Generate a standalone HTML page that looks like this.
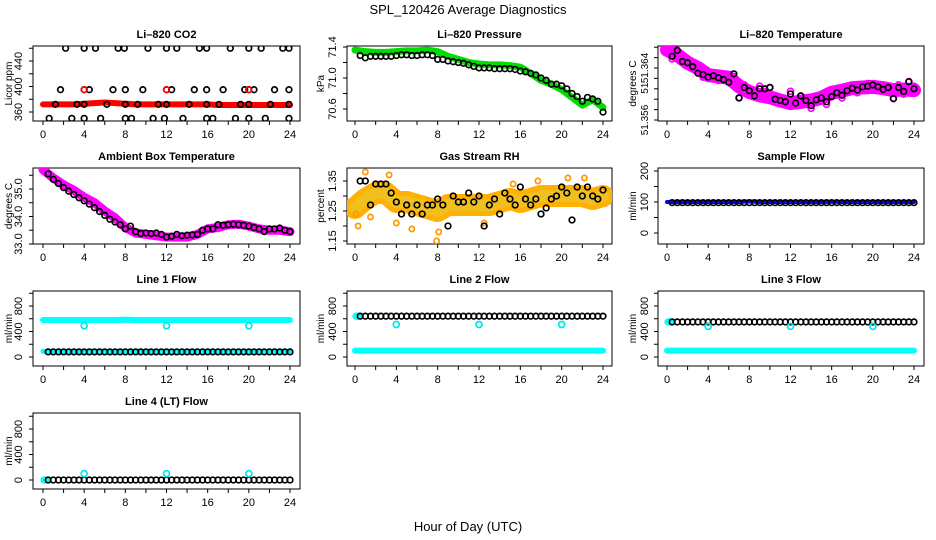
<!DOCTYPE html>
<html><head><meta charset="utf-8"><style>
html,body{margin:0;padding:0;background:#fff;}
svg{display:block;font-family:"Liberation Sans",sans-serif;}
</style></head><body>
<svg id="chart" width="936" height="540" viewBox="0 0 936 540">
<text x="468" y="14" text-anchor="middle" font-size="13">SPL_120426  Average Diagnostics</text>
<text x="468" y="531" text-anchor="middle" font-size="13">Hour of Day (UTC)</text>
</svg>
<script>
const HOURS=[0,1,2,3,4,5,6,7,8,9,10,11,12,13,14,15,16,17,18,19,20,21,22,23,24];
const HALF=[0.5,1,1.5,2,2.5,3,3.5,4,4.5,5,5.5,6,6.5,7,7.5,8,8.5,9,9.5,10,10.5,11,11.5,12,12.5,13,13.5,14,14.5,15,15.5,16,16.5,17,17.5,18,18.5,19,19.5,20,20.5,21,21.5,22,22.5,23,23.5,24];
const OUTLIER_HOURS=[4,12,20];
const X_TICKS=[0,2,4,6,8,10,12,14,16,18,20,22,24];
const X_LABELS=[0,4,8,12,16,20,24];

// CO2
const co2Band=[372,372,372,372,373,374,375,374,373,372,372,372,372,372,372,372,372,371,371,371,371,371,371,371,371];
const co2HiHours=[2.2,4,5.1,7.3,7.9,10.2,12,13,15.2,15.9,18.2,20,21.2,23.3,23.9];
const co2MidHours=[1.7,4,4.5,6.8,8,9.7,12,12.5,14.7,15.9,17.5,19.6,20,20.5,22.5,23.9];
const co2LowHours=[0.6,2.8,4,5.6,8,8.6,10.7,11.8,13.6,15.9,16.5,18.7,20,21.6,23.9];
const co2BaseHours=[1.2,3.3,4,6.2,8,9.2,11.2,12,14.2,15.9,17.1,19.2,20,22.1,23.9];
const co2HiVal=460, co2MidVal=395, co2LowVal=350, co2BaseVal=372;
// Pressure
const presBand=[71.36,71.34,71.33,71.33,71.34,71.35,71.35,71.36,71.34,71.28,71.24,71.20,71.18,71.17,71.17,71.16,71.14,71.06,70.97,70.92,70.85,70.75,70.65,70.72,70.62];
const presPts=[71.29,71.26,71.28,71.28,71.28,71.28,71.28,71.29,71.30,71.30,71.29,71.29,71.30,71.30,71.29,71.24,71.24,71.22,71.21,71.20,71.19,71.17,71.15,71.13,71.13,71.13,71.12,71.12,71.12,71.12,71.11,71.09,71.08,71.06,71.04,71.00,70.97,70.92,70.92,70.90,70.86,70.80,70.76,70.70,70.75,70.73,70.70,70.56];
// Li-820 temperature
const tempBand=[51.3668,51.3660,51.3648,51.3640,51.3629,51.3627,51.3625,51.3612,51.3603,51.3598,51.3595,51.3590,51.3586,51.3588,51.3590,51.3594,51.3602,51.3605,51.3609,51.3610,51.3611,51.3609,51.3606,51.3607,51.3606];
const tempPts=[51.3658,51.3667,51.3650,51.3648,51.3642,51.3632,51.3630,51.3626,51.3628,51.3625,51.3622,51.3618,51.3631,51.3594,51.3610,51.3605,51.3597,51.3608,51.3608,51.3610,51.3592,51.3590,51.3588,51.3600,51.3586,51.3597,51.3590,51.3582,51.3591,51.3594,51.3588,51.3596,51.3602,51.3598,51.3605,51.3609,51.3606,51.3611,51.3612,51.3614,51.3611,51.3607,51.3610,51.3593,51.3610,51.3604,51.3619,51.3608];
// Ambient
const ambBand=[35.7,35.4,35.15,34.95,34.7,34.5,34.2,33.95,33.6,33.4,33.35,33.3,33.25,33.25,33.25,33.35,33.55,33.6,33.7,33.72,33.65,33.55,33.5,33.5,33.45];
const ambPts=[35.55,35.35,35.2,35.05,34.92,34.8,34.68,34.57,34.45,34.32,34.18,34.04,33.9,33.8,33.7,33.55,33.65,33.45,33.38,33.4,33.38,33.4,33.35,33.25,33.28,33.35,33.3,33.32,33.33,33.35,33.5,33.55,33.55,33.7,33.68,33.7,33.72,33.7,33.68,33.65,33.6,33.55,33.45,33.55,33.55,33.58,33.5,33.45];
// RH
const rhBand=[1.26,1.29,1.31,1.31,1.28,1.28,1.27,1.26,1.25,1.27,1.27,1.27,1.27,1.27,1.28,1.29,1.28,1.29,1.30,1.30,1.30,1.30,1.30,1.29,1.30];
const rhPts=[1.35,1.35,1.27,1.34,1.34,1.34,1.31,1.28,1.24,1.27,1.24,1.27,1.24,1.27,1.27,1.29,1.27,1.20,1.30,1.28,1.28,1.31,1.28,1.30,1.20,1.27,1.29,1.24,1.31,1.29,1.27,1.33,1.29,1.27,1.29,1.24,1.26,1.29,1.30,1.33,1.31,1.22,1.33,1.30,1.33,1.30,1.29,1.32];
const rhOutHours=[0.3,1,1.5,3.3,4,7.9,8.1,15.3,17.7,20.6,22.2,0.1,5.5,12.5];
const rhOutVals=[1.20,1.38,1.23,1.37,1.21,1.15,1.18,1.34,1.35,1.36,1.36,1.24,1.19,1.21];
// Sample flow
const sampBand=[100,100,100,100,100,100,100,100,102,100,100,100,100,100,100,100,101,100,100,100,100,100,100,100,100];
const sampPts=HALF.map(()=>98);
// Line flows
const l1Cyan=[580,580,580,580,580,580,580,580,585,580,580,580,580,580,580,580,580,580,580,580,580,580,580,580,580];
const l1Low=[90,90,90,90,90,90,90,90,90,90,90,90,90,90,90,90,90,90,90,90,90,90,90,90,90];
const l1Black=80, l1Out=490;
const l2Cyan=[100,100,100,100,100,100,100,100,100,100,100,100,100,100,100,100,100,100,100,100,100,100,100,100,100];
const l2Black=640, l2Out=510;
const l3Cyan=[100,100,100,100,100,100,100,100,100,100,100,100,100,100,100,100,100,100,100,100,100,100,100,100,100];
const l3Black=550, l3Out=480;
const l4Black=0, l4Out=100;

const NS="http://www.w3.org/2000/svg";
const svg=document.getElementById('chart');
function mk(tag,attrs,parent){const e=document.createElementNS(NS,tag);for(const k in attrs)e.setAttribute(k,attrs[k]);(parent||svg).appendChild(e);return e;}

const COLS=[{l:33,r:300,x0:43,x1:290,lab:22,tit:8},{l:347,r:612,x0:355,x1:603,lab:336,tit:320},{l:658,r:924,x0:667,x1:914,lab:648,tit:632}];
const ROWS=[{t:46,b:121},{t:168,b:244},{t:291,b:366},{t:413,b:489}];

function panel(name,title,col,row,ytitle,v0,p0,v1,p1,yTicks,yLabels,labSize){
  const C=COLS[col],R=ROWS[row];
  const g=mk('g',{});
  
  
  const sx=h=>C.x0+(h/24)*(C.x1-C.x0);
  const sy=v=>p0+(v-v0)*(p1-p0)/(v1-v0);
  const t=mk('text',{x:(C.l+C.r)/2,y:R.t-8,'text-anchor':'middle','font-size':11,'font-weight':'bold'},g);
  t.textContent=title;
  
  
  const box=mk('rect',{x:C.l,y:R.t,width:C.r-C.l,height:R.b-R.t,fill:'none',stroke:'#000','stroke-width':1},g);
  
  
  const xa=mk('g',{},g);
  
  
  X_TICKS.forEach(h=>mk('line',{x1:sx(h),x2:sx(h),y1:R.b,y2:R.b+4,stroke:'#000'},xa));
  X_LABELS.forEach(h=>{const e=mk('text',{x:sx(h),y:R.b+17,'text-anchor':'middle','font-size':11},xa);e.textContent=h;});
  const ya=mk('g',{},g);
  
  
  yTicks.forEach(v=>{const y=sy(v);if(y<R.t-1||y>R.b+1)return;mk('line',{x1:C.l,x2:C.l-4,y1:y,y2:y,stroke:'#000'},ya);});
  yLabels.forEach(([v,s])=>{const y=sy(v);const e=mk('text',{x:C.lab,y:y,'text-anchor':'middle','font-size':labSize||11,transform:`rotate(-90 ${C.lab} ${y})`},ya);e.textContent=s;});
  const yt=mk('text',{x:C.tit+4,y:(R.t+R.b)/2,'text-anchor':'middle','font-size':10,transform:`rotate(-90 ${C.tit+4} ${(R.t+R.b)/2})`},g);
  yt.textContent=ytitle;
  
  
  const clip='clip'+name;
  const cp=mk('clipPath',{id:clip},g);mk('rect',{x:C.l,y:R.t,width:C.r-C.l,height:R.b-R.t},cp);
  const plot=mk('g',{'clip-path':`url(#${clip})`},g);
  return {sx,sy,plot};
}
function band(P,hrs,vals,color,w,name){
  const pl=mk('polyline',{points:hrs.map((h,i)=>P.sx(h)+','+P.sy(vals[i])).join(' '),fill:'none',stroke:color,'stroke-width':w,'stroke-linejoin':'round','stroke-linecap':'round'},P.plot);
  
  
}
function pts(P,hrs,vals,color,name,r){
  const g=mk('g',{},P.plot);
  
  
  hrs.forEach((h,i)=>mk('circle',{cx:P.sx(h),cy:P.sy(Array.isArray(vals)?vals[i]:vals),r:r||2.8,fill:'none',stroke:color,'stroke-width':1.7},g));
}
const range=(a,b,s)=>{const o=[];for(let v=a;v<=b+1e-9;v+=s)o.push(+v.toFixed(6));return o;};

// Row 1
let P=panel('co2-panel','Li\u2013820 CO2',0,0,'Licor ppm',360,112,440,61,range(360,460,20),[[360,'360'],[400,'400'],[440,'440']]);
band(P,HOURS,co2Band,'#ff0000',6,'co2-band');
pts(P,co2HiHours,co2HiVal,'#000','co2-high-points');
pts(P,co2MidHours,co2MidVal,'#000','co2-mid-points');
pts(P,co2LowHours,co2LowVal,'#000','co2-low-points');
pts(P,co2BaseHours,co2BaseVal,'#000','co2-base-points');
pts(P,[4,12,20],co2MidVal,'#ff0000','co2-red-outliers');

P=panel('pressure-panel','Li\u2013820 Pressure',1,0,'kPa',70.6,109,71.4,47,range(70.6,71.4,0.2),[[70.6,'70.6'],[71.0,'71.0'],[71.4,'71.4']]);
band(P,HOURS,presBand,'#00dd00',7,'pressure-band');
pts(P,HALF,presPts,'#000','pressure-points');

P=panel('li820-temp-panel','Li\u2013820 Temperature',2,0,'degrees C',51.356,120,51.364,68,[51.356,51.3576,51.3592,51.3608,51.3624,51.364,51.3656,51.3672],[[51.356,'51.356'],[51.3609,'51'],[51.364,'51.364']],10);
band(P,HOURS,tempBand,'#ff00ff',14,'li820-temp-band');
pts(P,HALF,tempPts.map((v,i)=>v+(i%3-1)*0.0004),'#ff00ff','li820-temp-scatter',3);
pts(P,HALF,tempPts,'#000','li820-temp-points');

// Row 2
P=panel('ambient-panel','Ambient Box Temperature',0,1,'degrees C',33,244,35,189,range(33,35.5,0.5),[[33,'33.0'],[34,'34.0'],[35,'35.0']]);
band(P,HOURS,ambBand,'#ff00ff',9,'ambient-band');
pts(P,HALF,ambPts,'#000','ambient-points');

P=panel('rh-panel','Gas Stream RH',1,1,'percent',1.15,241,1.35,181,range(1.15,1.35,0.05),[[1.15,'1.15'],[1.25,'1.25'],[1.35,'1.35']]);
band(P,HOURS,rhBand,'#ffb000',22,'rh-band-outer');
band(P,HOURS,rhBand,'#f0c020',12,'rh-band-inner');
pts(P,rhOutHours,rhOutVals,'#ff9900','rh-outliers',2.6);
pts(P,HALF,rhPts,'#000','rh-points');

P=panel('sample-flow-panel','Sample Flow',2,1,'ml/min',0,233,200,171,range(-50,200,50),[[0,'0'],[100,'100'],[200,'200']]);
band(P,HOURS,sampBand,'#0000ff',4,'sample-flow-band');
pts(P,HALF,sampPts,'#000','sample-flow-points');

// Row 3
const flowTicks=range(-200,1000,200);
const flowLabels=[[0,'0'],[400,'400'],[800,'800']];
P=panel('line1-panel','Line 1 Flow',0,2,'ml/min',0,357,800,306,flowTicks,flowLabels);
band(P,HOURS,l1Cyan,'#00ffff',6,'line1-high-band');
band(P,HOURS,l1Low,'#00ffff',5,'line1-low-band');
pts(P,HALF,l1Black,'#000','line1-points');
pts(P,OUTLIER_HOURS,l1Out,'#00e5ee','line1-outliers',3);

P=panel('line2-panel','Line 2 Flow',1,2,'ml/min',0,357,800,306,flowTicks,flowLabels);
band(P,HOURS,l2Cyan,'#00ffff',6,'line2-low-band');
pts(P,[0.1,0.2,0.3],l2Black,'#00ffff','line2-start');
pts(P,HALF,l2Black,'#000','line2-points');
pts(P,OUTLIER_HOURS,l2Out,'#00e5ee','line2-outliers',3);

P=panel('line3-panel','Line 3 Flow',2,2,'ml/min',0,357,800,306,flowTicks,flowLabels);
band(P,HOURS,l3Cyan,'#00ffff',6,'line3-low-band');
pts(P,[0.1,0.2,0.3],l3Black,'#00ffff','line3-start');
pts(P,HALF,l3Black,'#000','line3-points');
pts(P,OUTLIER_HOURS,l3Out,'#00e5ee','line3-outliers',3);

// Row 4
P=panel('line4-panel','Line 4 (LT) Flow',0,3,'ml/min',0,480,800,429,flowTicks,flowLabels);
pts(P,[0.1,0.2,0.3],l4Black,'#00ffff','line4-start');
pts(P,HALF,l4Black,'#000','line4-points');
pts(P,OUTLIER_HOURS,l4Out,'#00e5ee','line4-outliers',3);
</script>
</body></html>
